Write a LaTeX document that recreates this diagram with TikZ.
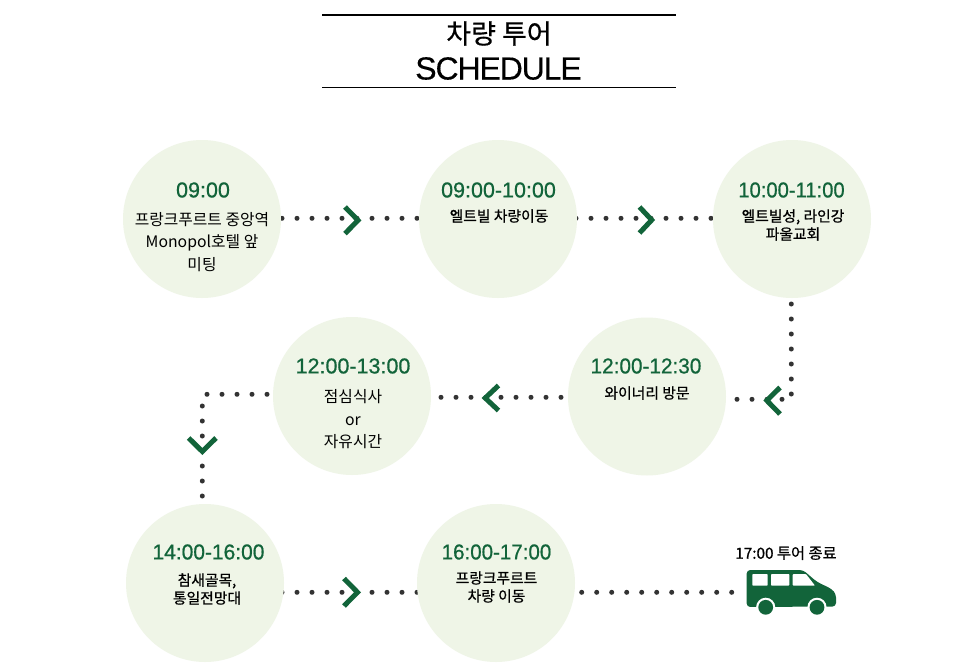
\documentclass[tikz,border=0pt]{standalone}
\usepackage{fontspec}
\setmainfont{Noto Sans CJK KR}
\newfontfamily\semif[FakeBold=0.8]{Noto Sans CJK KR}
\newfontfamily\titlef[FakeBold=0.6]{Noto Sans CJK KR}
\newfontfamily\timef[FakeBold=0.7]{Liberation Sans}
\newfontfamily\headf[LetterSpace=-3.5,FakeBold=0.25]{Liberation Sans}
\definecolor{dkgreen}{HTML}{12643A}
\definecolor{pale}{HTML}{EFF5E7}
\definecolor{dotc}{HTML}{333333}
\tikzset{
  stopc/.style={circle,fill=pale,minimum size=158pt,inner sep=0pt},
  dotline/.style={dotc,line width=5pt,line cap=round,dash pattern=on 0pt off 15pt},
  chev/.style={draw=dkgreen,line width=5pt,line cap=butt,miter limit=10},
  timelab/.style={text=dkgreen,font=\timef\fontsize{21.5}{21.5}\selectfont,inner sep=0pt,anchor=center},
  desc/.style={text=black,font=\fontsize{15.8}{22.5}\selectfont,align=center,inner sep=0pt,anchor=center},
  descb/.style={text=black,font=\semif\fontsize{14.8}{18}\selectfont,align=center,inner sep=0pt,anchor=center},
}
\begin{document}
\begin{tikzpicture}[x=1pt,y=-1pt]
\useasboundingbox (0,0) rectangle (962,672);
\fill[white] (0,0) rectangle (962,672);
% title
\coordinate (tl1) at (322,15); \coordinate (tr1) at (676,15);
\coordinate (tl2) at (322,87.5); \coordinate (tr2) at (676,87.5);
\draw[black,line width=2pt] (tl1) -- (tr1);
\draw[black,line width=1.6pt] (tl2) -- (tr2);
\node[inner sep=0pt,font=\titlef\fontsize{27}{27}\selectfont] (t1) at (499,33.5) {차량 투어};
\node[inner sep=0pt,font=\headf\fontsize{32}{32}\selectfont] (t2) at (498.5,68.5) {SCHEDULE};
% connector coordinates
\coordinate (a1) at (282,218.3); \coordinate (a2) at (417.5,218.3);
\coordinate (b1) at (576,218.3); \coordinate (b2) at (711.5,218.3);
\coordinate (d1) at (791.3,304); \coordinate (d2) at (791.3,394.5);
\coordinate (e1) at (782,399.3); \coordinate (e2) at (736.5,399.3);
\coordinate (f1) at (561,397.3); \coordinate (f2) at (440.5,397.3);
\coordinate (g1) at (267,394.3); \coordinate (g2) at (206.5,394.3);
\coordinate (h1) at (202.3,406); \coordinate (h2) at (202.3,496.5);
\coordinate (i1) at (282,592.3); \coordinate (i2) at (417.5,592.3);
\coordinate (j1) at (581.7,592.3); \coordinate (j2) at (732.2,592.3);
\foreach \p/\q in {a1/a2,b1/b2,d1/d2,e1/e2,f1/f2,g1/g2,h1/h2,i1/i2,j1/j2}
  \draw[dotline] (\p) -- (\q);
% circles
\node[stopc] (c1) at (202,219) {};
\node[stopc] (c2) at (498,219) {};
\node[stopc] (c3) at (792,219) {};
\node[stopc] (c4) at (647,396.5) {};
\node[stopc] (c5) at (352,396) {};
\node[stopc] (c6) at (205,583) {};
\node[stopc] (c7) at (496,583) {};
% chevrons
\draw[chev] (345,207) -- (358,220.3) -- (345,233.6);
\draw[chev] (639.5,207) -- (651.7,220) -- (639.5,233);
\draw[chev] (780,387.5) -- (766.8,400.5) -- (780,414);
\draw[chev] (498.5,385.5) -- (485.2,398) -- (498.5,410.5);
\draw[chev] (188.7,438) -- (202.3,451.5) -- (216,438);
\draw[chev] (344,578.5) -- (357.5,592.3) -- (344,606);
% texts
\node[timelab] (n1) at (203,190) {09:00};
\node[desc] (n1b) at (202,242) {프랑크푸르트 중앙역\\Monopol호텔 앞\\미팅};
\node[timelab] (n2) at (498.5,190) {09:00-10:00};
\node[descb] (n2b) at (499,216) {엘트빌 차량이동};
\node[timelab] (n3) at (791.5,190) {\scalebox{.94}[1]{10:00-11:00}};
\node[descb] (n3b) at (793,225) {엘트빌성, 라인강\\파울교회};
\node[timelab] (n4) at (646,366) {\scalebox{.965}[1]{12:00-12:30}};
\node[descb] (n4b) at (647,393) {와이너리 방문};
\node[timelab] (n5) at (353,366) {12:00-13:00};
\node[desc] (n5b) at (353,419.5) {점심식사\\or\\자유시간};
\node[timelab] (n6) at (208.5,552) {\scalebox{.975}[1]{14:00-16:00}};
\node[descb] (n6b) at (207,589) {참새골목,\\통일전망대};
\node[timelab] (n7) at (496.5,552) {\scalebox{.955}[1]{16:00-17:00}};
\node[descb] (n7b) at (496.5,587) {프랑크푸르트\\차량 이동};
\node[inner sep=0pt,font=\semif\fontsize{15.3}{16}\selectfont] (n8) at (786,553) {17:00 투어 종료};
% van
\fill[dkgreen,rounded corners=3.5pt] (746.7,570) -- (803,570) -- (816.7,581.7) -- (831.7,589) -- (836,594) -- (836,606.5) -- (746.7,607) -- cycle;
\fill[white,rounded corners=0.8pt] (752.3,574) rectangle (767.7,585.7);
\fill[white,rounded corners=0.8pt] (771,574) rectangle (789.3,585.7);
\fill[white,rounded corners=0.8pt] (792.7,574) -- (806,574) -- (815,585.7) -- (792.7,585.7) -- cycle;
\fill[white] (765.7,607.3) circle (9.6pt);
\fill[white] (817,607.3) circle (9.6pt);
\fill[dkgreen] (765.7,607.3) circle (7.4pt);
\fill[dkgreen] (817,607.3) circle (7.4pt);
\end{tikzpicture}
\end{document}
